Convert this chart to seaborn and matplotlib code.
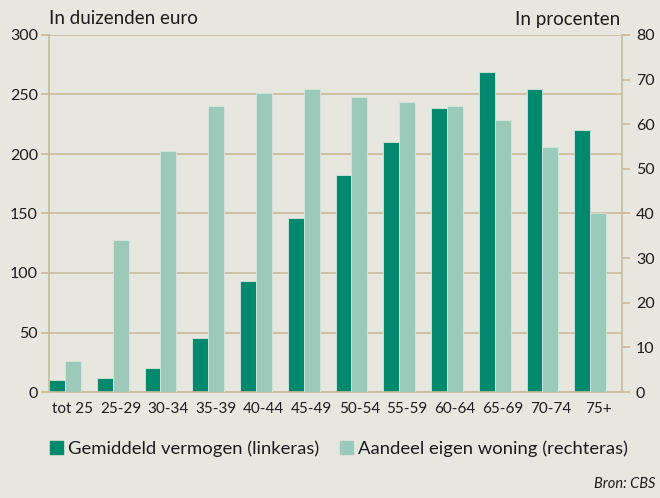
import numpy as np
import matplotlib.pyplot as plt
import matplotlib.patches as mpatches
import pandas as pd
import seaborn as sns

# gegevens uit de grafiek
leeftijd = ['tot 25', '25-29', '30-34', '35-39', '40-44', '45-49',
            '50-54', '55-59', '60-64', '65-69', '70-74', '75+']
vermogen = [10, 12, 20, 45, 93, 146, 182, 210, 239, 269, 255, 220]   # duizenden euro
eigen_woning = [7, 34, 54, 64, 67, 68, 66, 65, 64, 61, 55, 40]       # procenten

reeks_links = 'Gemiddeld vermogen (linkeras)'
reeks_rechts = 'Aandeel eigen woning (rechteras)'
leeg = '_leeg'  # lege plek rechts in elke groep
volgorde = [reeks_links, reeks_rechts, leeg]

donker = '#00896d'
licht = '#9bcaba'
achtergrond = '#e8e7df'
lijn = '#c8bb9d'
tekst = '#1c1c1c'

kleuren = {reeks_links: donker, reeks_rechts: licht, leeg: achtergrond}

df_links = pd.DataFrame({'leeftijd': leeftijd, 'waarde': vermogen, 'reeks': reeks_links})
df_rechts = pd.DataFrame({'leeftijd': leeftijd, 'waarde': eigen_woning, 'reeks': reeks_rechts})

sns.set_style('white')
plt.rcParams['font.family'] = ['Lato', 'DejaVu Sans']

fig = plt.figure(figsize=(6.6, 4.98), dpi=100, facecolor=achtergrond)
ax = fig.add_axes([49 / 660, 106 / 498, 573 / 660, 357 / 498])
ax.set_facecolor(achtergrond)

sns.barplot(data=df_links, x='leeftijd', y='waarde', hue='reeks', hue_order=volgorde,
            palette=kleuren, order=leeftijd, width=1.0, dodge=True, legend=False,
            saturation=1, edgecolor='#d6e6dd', linewidth=0.6, ax=ax, zorder=2)

ax2 = ax.twinx()
sns.barplot(data=df_rechts, x='leeftijd', y='waarde', hue='reeks', hue_order=volgorde,
            palette=kleuren, order=leeftijd, width=1.0, dodge=True, legend=False,
            saturation=1, edgecolor='#d6e6dd', linewidth=0.6, ax=ax2, zorder=2)

ax.set_ylim(0, 300)
ax2.set_ylim(0, 80)
ax.set_xlim(-0.5, len(leeftijd) - 0.5)
ax.set_yticks(np.arange(0, 301, 50))
ax2.set_yticks(np.arange(0, 81, 10))

ax.set_xlabel('')
ax.set_ylabel('')
ax2.set_xlabel('')
ax2.set_ylabel('')

# rasterlijnen alleen voor de linkeras
ax.yaxis.grid(True, color=lijn, linewidth=1.2, zorder=0)
ax.set_axisbelow(True)

for a in (ax, ax2):
    for kant in ['left', 'right', 'bottom', 'top']:
        a.spines[kant].set_visible(False)
ax.spines['left'].set_visible(True)
ax.spines['bottom'].set_visible(True)
ax2.spines['right'].set_visible(True)
for s in (ax.spines['left'], ax.spines['bottom'], ax2.spines['right']):
    s.set_color(lijn)
    s.set_linewidth(1.2)

# x-streepjes op de grenzen tussen de groepen
ax.set_xticks(np.arange(len(leeftijd)))
ax.set_xticklabels(leeftijd)
ax.set_xticks(np.arange(-0.5, len(leeftijd)), minor=True)
ax.tick_params(axis='x', which='major', length=0, pad=7, labelsize=11, labelcolor=tekst)
ax.tick_params(axis='x', which='minor', length=5, width=1.2, color=lijn, direction='out')
ax.tick_params(axis='y', length=6, width=1.2, color=lijn, direction='out', pad=2,
               labelsize=11.5, labelcolor=tekst, left=True)
ax2.tick_params(axis='y', length=6, width=1.2, color=lijn, direction='out', pad=4,
                labelsize=11.5, labelcolor=tekst, right=True)

fig.text(49 / 660, 1 - 19 / 498, 'In duizenden euro', fontsize=13.5, color=tekst,
         ha='left', va='center')
fig.text(620 / 660, 1 - 19 / 498, 'In procenten', fontsize=13.5, color=tekst,
         ha='right', va='center')

handles = [mpatches.Patch(color=donker, label=reeks_links),
           mpatches.Patch(color=licht, label=reeks_rechts)]
fig.legend(handles=handles, loc='center left', bbox_to_anchor=(33 / 660, 1 - 449 / 498),
           ncol=2, frameon=False, fontsize=13.3, handlelength=0.7, handleheight=0.7,
           handletextpad=0.3, columnspacing=1.1, labelcolor=tekst)

fig.text(655 / 660, 1 - 484 / 498, 'Bron: CBS', fontsize=10.5, style='italic',
         color=tekst, ha='right', va='center')

fig.savefig('out.png', dpi=100, facecolor=achtergrond)
